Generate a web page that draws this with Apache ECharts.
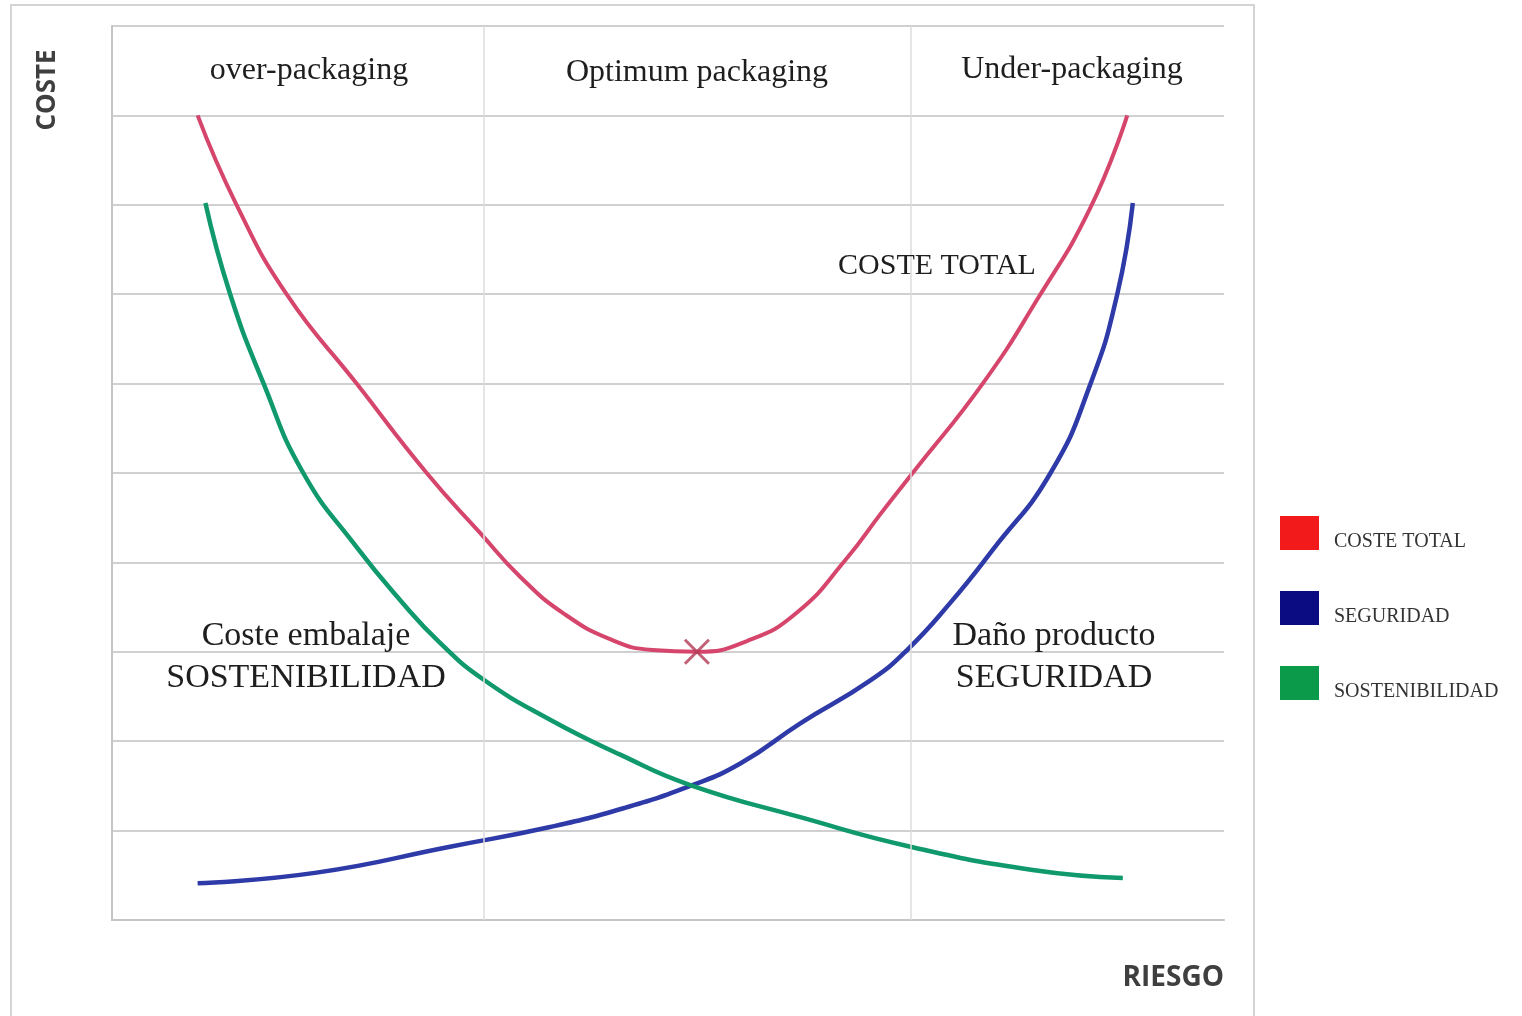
<!DOCTYPE html>
<html>
<head>
<meta charset="utf-8">
<title>Coste vs Riesgo</title>
<script src="https://cdn.jsdelivr.net/npm/echarts@6/dist/echarts.min.js"></script>
<style>
  html, body { margin: 0; padding: 0; background: #fff; }
  #main { width: 1522px; height: 1016px; }
</style>
</head>
<body>
<div id="main"></div>
<script>
// datos (x = riesgo 0-100, y = coste 0-10)
var costeTotal = [
  [7.7, 9.0], [11.2, 8.0], [15.7, 7.0], [22.0, 6.0], [28.3, 5.0], [33.1, 4.33],
  [36.7, 3.84], [40.6, 3.43], [45.0, 3.13], [48.6, 3.02], [52.6, 3.0], [57.1, 3.12],
  [61.6, 3.44], [66.1, 4.05], [69.1, 4.54], [72.0, 5.0], [78.3, 6.0], [83.2, 6.94],
  [88.0, 7.97], [91.3, 9.0]
]
var seguridad = [
  [7.7, 0.41], [18.4, 0.53], [30.4, 0.82], [39.4, 1.04], [46.0, 1.25], [52.0, 1.5],
  [56.5, 1.75], [61.9, 2.2], [68.2, 2.68], [71.5, 3.02], [75.4, 3.55], [79.2, 4.14],
  [84.4, 5.0], [88.0, 6.0], [90.4, 7.0], [91.8, 8.02]
]
var sostenibilidad = [
  [8.4, 8.02], [10.6, 7.01], [13.6, 6.01], [17.2, 5.0], [22.0, 4.17], [25.9, 3.58],
  [29.5, 3.1], [33.4, 2.69], [39.4, 2.24], [45.7, 1.85], [52.0, 1.51], [61.9, 1.15],
  [71.8, 0.82], [82.8, 0.56], [90.9, 0.47]
]
var optimo = [[52.6, 3.0]]
var zonas = [33.45, 71.8]   // divisiones verticales entre zonas
var seriesNames = ['COSTE TOTAL', 'SEGURIDAD', 'SOSTENIBILIDAD']

var serif = '"Liberation Serif", "DejaVu Serif", serif'
var myChart = echarts.init(document.getElementById('main'))

function txt(text, x, y, size, align) {
  return {
    type: 'text', x: x, y: y, z: 10,
    style: {
      text: text, font: size + 'px ' + serif, fill: '#1e1e1e',
      textAlign: align || 'center', textVerticalAlign: 'middle'
    }
  }
}

var option = {
  animation: false,
  backgroundColor: '#fff',
  grid: { left: 112, top: 26, width: 1112, height: 894 },
  xAxis: {
    type: 'value', min: 0, max: 100,
    axisLine: { show: true, lineStyle: { color: '#c4c4c4', width: 2 } },
    axisTick: { show: false }, axisLabel: { show: false },
    splitLine: { show: false },
    name: 'RIESGO', nameLocation: 'end', nameGap: 0,
    nameTextStyle: {
      fontFamily: '"Open Sans", sans-serif', fontWeight: 'bold', fontSize: 28,
      color: '#3f3f3f', align: 'right', verticalAlign: 'top', padding: [44, 0, 0, 0]
    }
  },
  yAxis: {
    type: 'value', min: 0, max: 10, interval: 1,
    axisLine: { show: true, lineStyle: { color: '#c4c4c4', width: 2 } },
    axisTick: { show: false }, axisLabel: { show: false },
    splitLine: { show: true, lineStyle: { color: '#d0d0d0', width: 2 } }
  },
  legend: {
    orient: 'vertical', left: 1275, top: 511,
    itemWidth: 39, itemHeight: 34, itemGap: 39, icon: 'rect',
    formatter: '{t|{name}}',
    textStyle: {
      rich: {
        t: {
          fontFamily: serif, fontSize: 20, color: '#333',
          lineHeight: 38, verticalAlign: 'bottom', padding: [0, 0, 0, 10]
        }
      }
    },
    data: [
      { name: seriesNames[0], itemStyle: { color: '#f21a1a' } },
      { name: seriesNames[1], itemStyle: { color: '#0c0c82' } },
      { name: seriesNames[2], itemStyle: { color: '#0a9a4a' } }
    ]
  },
  series: [
    {
      name: seriesNames[0], type: 'line', smooth: 0.5, symbol: 'none', z: 3,
      data: costeTotal,
      lineStyle: { color: '#d6456c', width: 4 },
      markLine: {
        silent: true, symbol: 'none', label: { show: false },
        lineStyle: { color: '#dcdcdc', width: 1.5, type: 'solid' },
        data: zonas.map(function (v) { return { xAxis: v } })
      }
    },
    {
      name: seriesNames[1], type: 'line', smooth: 0.5, symbol: 'none', z: 3,
      data: seguridad,
      lineStyle: { color: '#2d3aa8', width: 4.5 }
    },
    {
      name: seriesNames[2], type: 'line', smooth: 0.5, symbol: 'none', z: 3,
      data: sostenibilidad,
      lineStyle: { color: '#10996c', width: 4.5 }
    },
    {
      name: 'optimo', type: 'scatter', z: 5,
      data: optimo,
      symbol: 'path://M0,0 L10,10 M10,0 L0,10',
      symbolSize: 24,
      itemStyle: { color: 'none', borderColor: '#b23a55', borderWidth: 3 }
    }
  ],
  graphic: [
    {
      type: 'rect', z: -1, silent: true,
      shape: { x: 11, y: 5, width: 1243, height: 1030 },
      style: { fill: 'none', stroke: '#d4d4d4', lineWidth: 2 }
    },
    {
      type: 'text', x: 48, y: 90, rotation: Math.PI / 2, z: 10,
      style: {
        text: 'COSTE', font: 'bold 26px "Open Sans", sans-serif', fill: '#3f3f3f',
        textAlign: 'center', textVerticalAlign: 'middle'
      }
    },
    txt('over-packaging', 309, 71, 32),
    txt('Optimum packaging', 697, 73, 32),
    txt('Under-packaging', 1072, 70, 32),
    txt('COSTE TOTAL', 937, 266, 30),
    txt('Coste embalaje', 306, 636, 34),
    txt('SOSTENIBILIDAD', 306, 678, 34),
    txt('Daño producto', 1054, 636, 34),
    txt('SEGURIDAD', 1054, 678, 34)
  ]
}
myChart.setOption(option)
</script>
</body>
</html>
